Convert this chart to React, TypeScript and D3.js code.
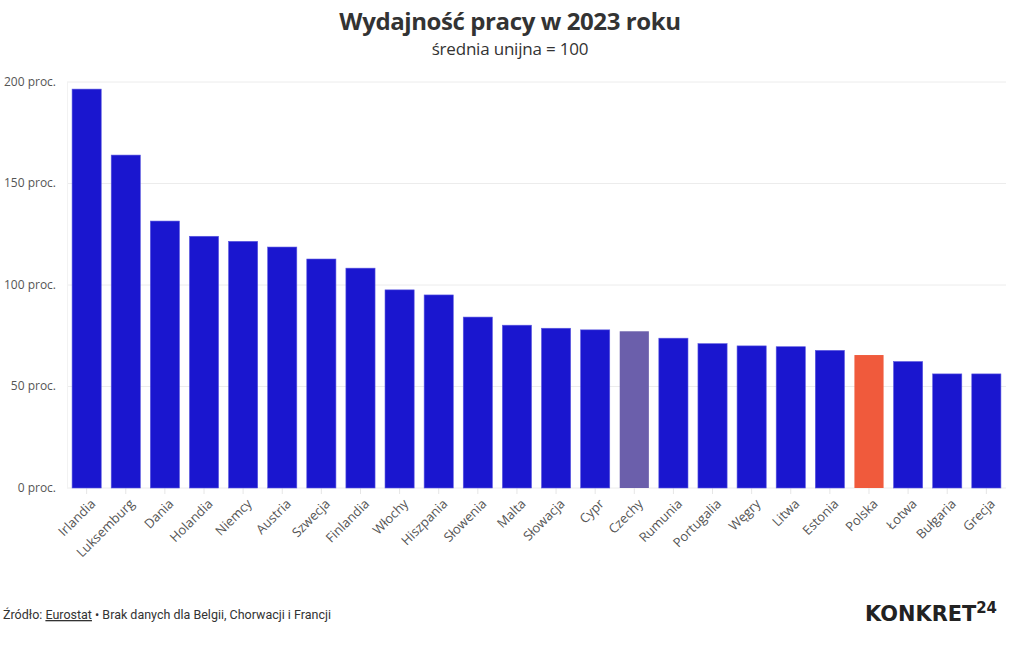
import React from "react";
import * as d3 from "d3";

const countries = ["Irlandia","Luksemburg","Dania","Holandia","Niemcy","Austria","Szwecja","Finlandia","Włochy","Hiszpania","Słowenia","Malta","Słowacja","Cypr","Czechy","Rumunia","Portugalia","Węgry","Litwa","Estonia","Polska","Łotwa","Bułgaria","Grecja"];
const values = [196.5,164,131.5,124,121.5,118.7,112.8,108.3,97.6,95.1,84.2,80.2,78.7,77.9,77.2,73.8,71.1,70,69.6,67.8,65.5,62.3,56.2,56.2];
const yTicks = [0,50,100,150,200];
const highlight: Record<string,string> = { Czechy: "#6b5fab", Polska: "#f05a3c" };
const baseColor = "#1a16cf";

export default function App() {
  const W = 1020, H = 650;
  const x = d3.scaleBand<string>().domain(countries).range([67, 1006]).paddingInner(0.255).paddingOuter(0.13);
  const y = d3.scaleLinear().domain([0, 200]).range([488, 82]);
  const font = "'Open Sans', 'Noto Sans', sans-serif";
  return (
    <svg width={W} height={H} style={{ position: "absolute", left: 0, top: 0, background: "#fff" }}>
      <text x={510} y={30} textAnchor="middle" fontFamily={font} fontWeight={700} fontSize={24} fill="#333" letterSpacing={-0.4}>Wydajność pracy w 2023 roku</text>
      <text x={510} y={55} textAnchor="middle" fontFamily={font} fontSize={17} fill="#333" letterSpacing={-0.2}>średnia unijna = 100</text>
      {yTicks.map(t => (
        <g key={t}>
          <line x1={67} x2={1006} y1={y(t)} y2={y(t)} stroke="#ececec" strokeWidth={1} />
          <text x={56} y={y(t)} dy="0.32em" textAnchor="end" fontFamily={font} fontSize={12} fill="#555">{t} proc.</text>
        </g>
      ))}
      <line x1={67.5} x2={67.5} y1={82} y2={488} stroke="#f2f2f2" />
      {countries.map((c, i) => {
        const cx = (x(c) as number) + x.bandwidth() / 2;
        return (
          <g key={c}>
            <line x1={cx} x2={cx} y1={488} y2={494} stroke="#e6e6e6" />
            <rect x={x(c)} y={y(values[i])} width={x.bandwidth()} height={y(0) - y(values[i])} fill={highlight[c] || baseColor} stroke={highlight[c] ? "none" : "#5b58e0"} strokeWidth={0.6} />
            <text transform={`translate(${cx + 5},${500}) rotate(-45)`} textAnchor="end" dy="0.5em" fontFamily={font} fontSize={13} fill="#555">{c}</text>
          </g>
        );
      })}
      <text x={3} y={619} fontFamily="Roboto, sans-serif" fontSize={13} fill="#333" textLength={328} lengthAdjust="spacingAndGlyphs">
        Źródło: <tspan style={{ textDecoration: "underline" }}>Eurostat</tspan> • Brak danych dla Belgii, Chorwacji i Francji
      </text>
      <text x={865} y={621} fontFamily="'DejaVu Sans', sans-serif" fill="#222" fontWeight={700} fontSize={21} textLength={132} lengthAdjust="spacingAndGlyphs">
        KONKRET<tspan fontSize={15} dy={-8}>24</tspan>
      </text>
    </svg>
  );
}
